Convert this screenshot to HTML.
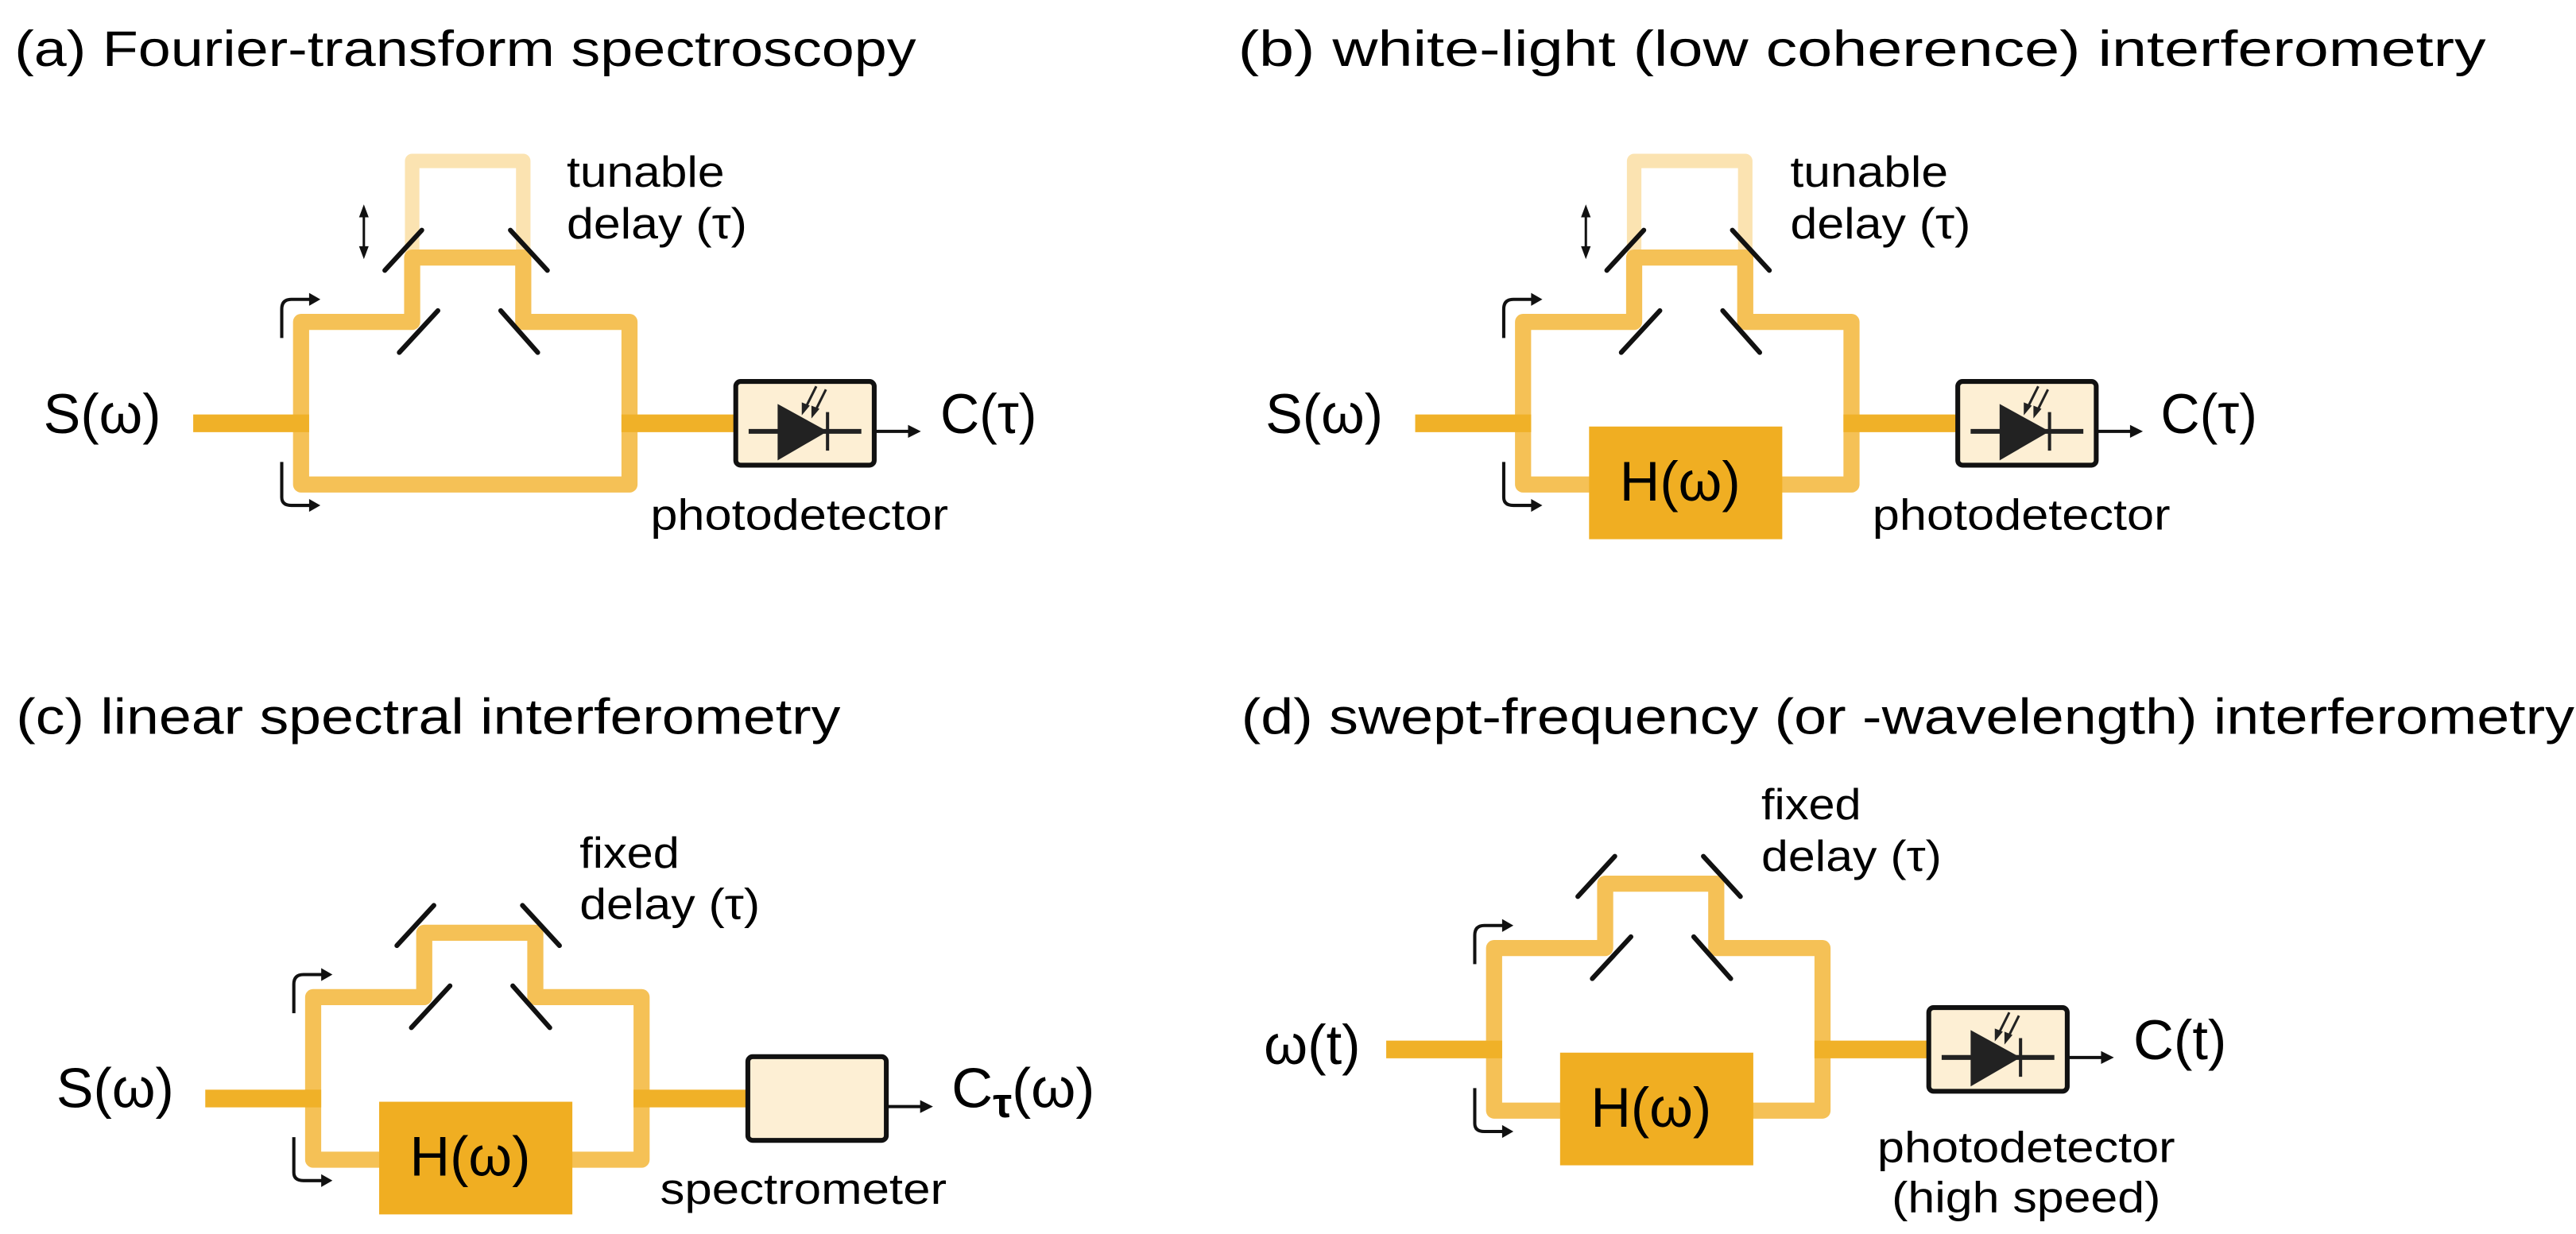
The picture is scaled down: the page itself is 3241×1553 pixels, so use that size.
<!DOCTYPE html>
<html><head><meta charset="utf-8"><style>html,body{margin:0;padding:0;background:#fff}svg{display:block}text{font-family:"Liberation Sans Narrow","Liberation Sans",Arial,sans-serif}</style></head>
<body>
<svg xmlns="http://www.w3.org/2000/svg" xmlns:xlink="http://www.w3.org/1999/xlink" width="3241" height="1553" viewBox="0 0 1600 766.67" preserveAspectRatio="none">
<defs>
  <g id="core">
    <path d="M187,263 V200 H256 V160 H325 V200 H391 V301 H187 Z" fill="none" stroke="#f5c156" stroke-width="10" stroke-linejoin="round"/>
    <line x1="120" y1="263" x2="192" y2="263" stroke="#f0b128" stroke-width="11"/>
    <line x1="386" y1="263" x2="456" y2="263" stroke="#f0b128" stroke-width="11"/>
    <g stroke="#111" stroke-width="3" stroke-linecap="round">
      <line x1="239" y1="168" x2="262" y2="143"/>
      <line x1="317" y1="143" x2="340" y2="168"/>
      <line x1="248" y1="219" x2="272" y2="193"/>
      <line x1="311" y1="193" x2="334" y2="219"/>
    </g>
    <g fill="none" stroke="#111" stroke-width="2">
      <path d="M175,210 V192 Q175,186 181,186 H195"/>
      <path d="M175,287 V309 Q175,314 181,314 H195"/>
      <line x1="544" y1="268" x2="567" y2="268"/>
    </g>
    <polygon points="199,186 192,182 192,190" fill="#111"/>
    <polygon points="199,314 192,310 192,318" fill="#111"/>
    <polygon points="572,268 564,264 564,272" fill="#111"/>
  </g>
  <g id="faded">
    <path d="M256,160 V100 H325 V160" fill="none" stroke="#fbe3b1" stroke-width="9" stroke-linejoin="round"/>
  </g>
  <g id="dbl">
    <line x1="226" y1="132" x2="226" y2="156" stroke="#111" stroke-width="1.5"/>
    <polygon points="226,127 223,135 229,135" fill="#111"/>
    <polygon points="226,161 223,153 229,153" fill="#111"/>
  </g>
  <g id="pd">
    <rect x="457" y="237" width="86" height="52" rx="3" fill="#fdefd4" stroke="#111" stroke-width="3"/>
    <line x1="465" y1="268" x2="535" y2="268" stroke="#222" stroke-width="3"/>
    <polygon points="483,251 483,286 514,268" fill="#222"/>
    <line x1="514" y1="256" x2="514" y2="280" stroke="#222" stroke-width="2"/>
    <line x1="507" y1="240" x2="500" y2="254" stroke="#222" stroke-width="1.5"/>
    <line x1="513" y1="242" x2="506" y2="256" stroke="#222" stroke-width="1.5"/>
    <polygon points="498,258 498,250 503,252" fill="#222"/>
    <polygon points="504,260 504,252 509,254" fill="#222"/>
  </g>
  <g id="spec">
    <rect x="457" y="237" width="86" height="52" rx="3" fill="#fdefd4" stroke="#111" stroke-width="3"/>
  </g>
  <g id="hbox">
    <rect x="228" y="265" width="120" height="70" fill="#f0ae22"/>
  </g>
</defs>

<!-- (a) -->
<use xlink:href="#faded"/>
<use xlink:href="#core"/>
<use xlink:href="#dbl"/>
<use xlink:href="#pd"/>
<text x="9" y="41" font-size="31" textLength="560" lengthAdjust="spacingAndGlyphs">(a) Fourier-transform spectroscopy</text>
<text x="27" y="269" font-size="35" textLength="73" lengthAdjust="spacingAndGlyphs">S(ω)</text>
<text x="584" y="269" font-size="35" textLength="60" lengthAdjust="spacingAndGlyphs">C(τ)</text>
<text x="352" y="116" font-size="27" textLength="98" lengthAdjust="spacingAndGlyphs">tunable</text>
<text x="352" y="148" font-size="27" textLength="112" lengthAdjust="spacingAndGlyphs">delay (τ)</text>
<text x="404" y="329" font-size="27" textLength="185" lengthAdjust="spacingAndGlyphs">photodetector</text>

<!-- (b) -->
<g transform="translate(759,0)">
<use xlink:href="#faded"/>
<use xlink:href="#core"/>
<use xlink:href="#dbl"/>
<use xlink:href="#pd"/>
<use xlink:href="#hbox"/>
<text x="247" y="311" font-size="35" textLength="75" lengthAdjust="spacingAndGlyphs">H(ω)</text>
</g>
<text x="769" y="41" font-size="31" textLength="775" lengthAdjust="spacingAndGlyphs">(b) white-light (low coherence) interferometry</text>
<text x="786" y="269" font-size="35" textLength="73" lengthAdjust="spacingAndGlyphs">S(ω)</text>
<text x="1342" y="269" font-size="35" textLength="60" lengthAdjust="spacingAndGlyphs">C(τ)</text>
<text x="1112" y="116" font-size="27" textLength="98" lengthAdjust="spacingAndGlyphs">tunable</text>
<text x="1112" y="148" font-size="27" textLength="112" lengthAdjust="spacingAndGlyphs">delay (τ)</text>
<text x="1163" y="329" font-size="27" textLength="185" lengthAdjust="spacingAndGlyphs">photodetector</text>

<!-- (c) -->
<g transform="translate(7.5,419.5)">
<use xlink:href="#core"/>
<use xlink:href="#spec"/>
<use xlink:href="#hbox"/>
<text x="247" y="311" font-size="35" textLength="75" lengthAdjust="spacingAndGlyphs">H(ω)</text>
</g>
<text x="10" y="456" font-size="31" textLength="512" lengthAdjust="spacingAndGlyphs">(c) linear spectral interferometry</text>
<text x="35" y="688" font-size="35" textLength="73" lengthAdjust="spacingAndGlyphs">S(ω)</text>
<text x="591" y="688" font-size="35" textLength="89" lengthAdjust="spacingAndGlyphs">C<tspan font-size="26" font-weight="bold" dy="6">τ</tspan><tspan dy="-6">(ω)</tspan></text>
<text x="360" y="539" font-size="27" textLength="62" lengthAdjust="spacingAndGlyphs">fixed</text>
<text x="360" y="571" font-size="27" textLength="112" lengthAdjust="spacingAndGlyphs">delay (τ)</text>
<text x="410" y="748" font-size="27" textLength="178" lengthAdjust="spacingAndGlyphs">spectrometer</text>

<!-- (d) -->
<g transform="translate(741,389)">
<use xlink:href="#core"/>
<use xlink:href="#pd"/>
<use xlink:href="#hbox"/>
<text x="247" y="311" font-size="35" textLength="75" lengthAdjust="spacingAndGlyphs">H(ω)</text>
</g>
<text x="771" y="456" font-size="31" textLength="828" lengthAdjust="spacingAndGlyphs">(d) swept-frequency (or -wavelength) interferometry</text>
<text x="785" y="661" font-size="35" textLength="60" lengthAdjust="spacingAndGlyphs">ω(t)</text>
<text x="1325" y="658" font-size="35" textLength="58" lengthAdjust="spacingAndGlyphs">C(t)</text>
<text x="1094" y="509" font-size="27" textLength="62" lengthAdjust="spacingAndGlyphs">fixed</text>
<text x="1094" y="541" font-size="27" textLength="112" lengthAdjust="spacingAndGlyphs">delay (τ)</text>
<text x="1166" y="722" font-size="27" textLength="185" lengthAdjust="spacingAndGlyphs">photodetector</text>
<text x="1175" y="753" font-size="27" textLength="167" lengthAdjust="spacingAndGlyphs">(high speed)</text>
</svg>
</body></html>
